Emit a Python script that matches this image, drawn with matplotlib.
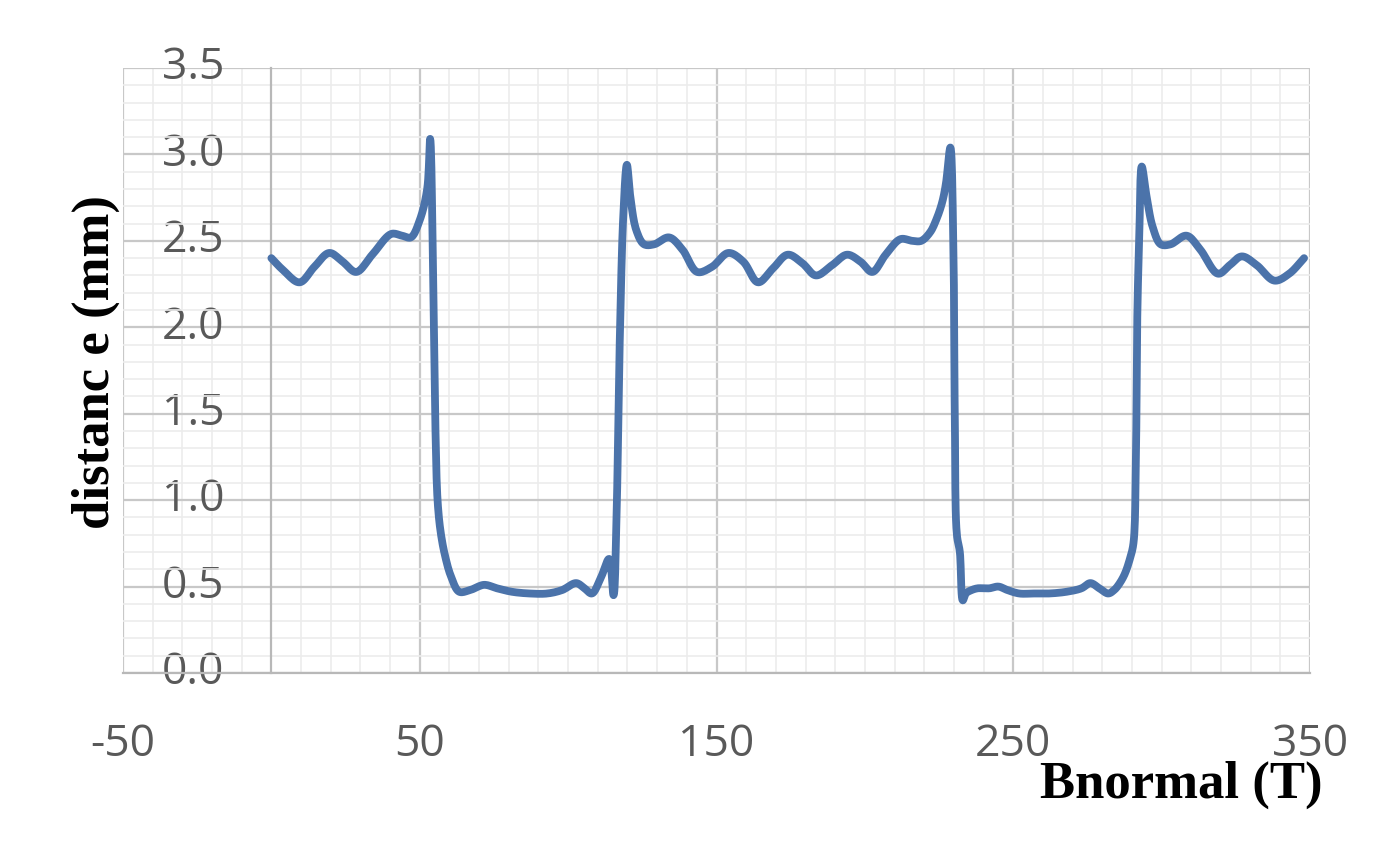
import matplotlib
matplotlib.use("Agg")
import matplotlib.pyplot as plt
import numpy as np
from matplotlib.ticker import MultipleLocator, FixedLocator

# Data
bnormal = [0, 4, 9.5, 14.5, 19.5, 24, 28.6, 34, 40.4, 44, 47, 50, 52.5, 53.5, 54.5, 55.3, 56, 57,
           58.5, 60.5, 63.3, 67, 71.7, 76, 81, 87, 93, 98, 102.7, 105.5, 108, 111, 113.8, 115.3,
           116.3, 117.5, 118.6, 119.8, 121, 123, 125.6, 129, 134, 138.5, 143.5, 148.5, 154, 159,
           164, 169, 174, 179, 183.5, 189, 194, 198.5, 202.5, 207, 212, 216, 219, 222, 224, 226,
           227.3, 228.8, 229.8, 230.3, 231, 232, 233, 234, 236, 238, 240, 242, 245, 248, 252, 257,
           262, 268, 273, 276, 279, 282, 284, 285.5, 287.5, 289.3, 290.5, 291.3, 291.8, 292.5,
           293.3, 295, 297, 299.7, 303, 308.4, 313, 319, 323, 327, 332, 338, 343, 348]
distance = [2.40, 2.33, 2.26, 2.35, 2.43, 2.38, 2.32, 2.42, 2.54, 2.53, 2.52, 2.62, 2.80, 3.09, 2.30,
            1.40, 1.00, 0.82, 0.68, 0.56, 0.47, 0.48, 0.51, 0.49, 0.47, 0.46, 0.46, 0.48, 0.52, 0.49,
            0.46, 0.55, 0.66, 0.45, 0.90, 2.00, 2.65, 2.94, 2.75, 2.56, 2.48, 2.48, 2.52, 2.45, 2.32,
            2.35, 2.43, 2.38, 2.26, 2.34, 2.42, 2.37, 2.30, 2.36, 2.42, 2.38, 2.32, 2.42, 2.51, 2.50,
            2.50, 2.55, 2.62, 2.72, 2.83, 3.04, 2.50, 1.50, 0.80, 0.70, 0.42, 0.46, 0.48, 0.49, 0.49,
            0.49, 0.50, 0.48, 0.46, 0.46, 0.46, 0.47, 0.49, 0.52, 0.49, 0.46, 0.48, 0.51, 0.57, 0.66,
            0.75, 1.20, 2.06, 2.55, 2.93, 2.75, 2.58, 2.48, 2.48, 2.53, 2.45, 2.31, 2.36, 2.41, 2.36,
            2.27, 2.31, 2.40]
x_ticks = [-50, 50, 150, 250, 350]
y_ticks = [0.0, 0.5, 1.0, 1.5, 2.0, 2.5, 3.0, 3.5]


def smooth_curve(xs, ys, sx, sy, n=12):
    """Centripetal Catmull-Rom rendering of the line (like a spreadsheet 'smoothed line')."""
    P = np.column_stack([np.asarray(xs, float) * sx, np.asarray(ys, float) * sy])
    P = np.vstack([2 * P[0] - P[1], P, 2 * P[-1] - P[-2]])
    out = [P[1]]
    for i in range(1, len(P) - 2):
        p0, p1, p2, p3 = P[i - 1], P[i], P[i + 1], P[i + 2]
        t0 = 0.0
        t1 = t0 + np.linalg.norm(p1 - p0) ** 0.5 + 1e-9
        t2 = t1 + np.linalg.norm(p2 - p1) ** 0.5 + 1e-9
        t3 = t2 + np.linalg.norm(p3 - p2) ** 0.5 + 1e-9
        for t in np.linspace(t1, t2, n)[1:]:
            a1 = (t1 - t) / (t1 - t0) * p0 + (t - t0) / (t1 - t0) * p1
            a2 = (t2 - t) / (t2 - t1) * p1 + (t - t1) / (t2 - t1) * p2
            a3 = (t3 - t) / (t3 - t2) * p2 + (t - t2) / (t3 - t2) * p3
            b1 = (t2 - t) / (t2 - t0) * a1 + (t - t0) / (t2 - t0) * a2
            b2 = (t3 - t) / (t3 - t1) * a2 + (t - t1) / (t3 - t1) * a3
            out.append((t2 - t) / (t2 - t1) * b1 + (t - t1) / (t2 - t1) * b2)
    out = np.array(out)
    return out[:, 0] / sx, out[:, 1] / sy


fig = plt.figure(figsize=(13.86, 8.42), dpi=100)
ax = fig.add_axes([123 / 1386, 1 - 673 / 842, (1310 - 123) / 1386, (673 - 68) / 842])

ax.set_xlim(-50, 350)
ax.set_ylim(0, 3.5)
ax.xaxis.set_major_locator(FixedLocator(x_ticks))
ax.xaxis.set_minor_locator(MultipleLocator(10))
ax.yaxis.set_major_locator(FixedLocator(y_ticks))
ax.yaxis.set_minor_locator(MultipleLocator(0.1))

ax.grid(which="major", color="#c8c8c8", linewidth=1.6)
ax.grid(which="minor", color="#ececec", linewidth=1.2)
ax.set_axisbelow(True)

for s in ["top", "right"]:
    ax.spines[s].set_visible(False)
ax.spines["left"].set_position(("data", 0))
ax.spines["left"].set_color("#b8b8b8")
ax.spines["left"].set_linewidth(1.6)
ax.spines["bottom"].set_color("#b8b8b8")
ax.spines["bottom"].set_linewidth(1.6)

# pixel scale factors so the smoothing works in screen-like space
sx = 1187 / 400.0
sy = 605 / 3.5
xs, ys = smooth_curve(bnormal, distance, sx, sy)
ax.plot(xs, ys, color="#4b73aa", linewidth=5.6, solid_joinstyle="round",
        solid_capstyle="round", zorder=3)

tick_font = dict(family=["Open Sans", "DejaVu Sans"], size=32, color="#595959")
ax.set_xticklabels([str(t) for t in x_ticks], **tick_font)
ax.set_yticklabels([f"{t:.1f}" for t in y_ticks], **tick_font)
ax.tick_params(which="both", length=0)
ax.tick_params(axis="x", pad=36)
ax.tick_params(axis="y", pad=34)
for lab in ax.get_yticklabels():
    lab.set_verticalalignment("center")

label_font = dict(family=["Liberation Serif", "DejaVu Serif"], weight="bold", size=38, color="black")
fig.text(1181 / 1386, 1 - 785 / 842, "Bnormal (T)", ha="center", va="center", **label_font)
fig.text(96 / 1386, 1 - 362 / 842, "distanc e (mm)", ha="center", va="center", rotation=90,
         **label_font)

fig.savefig("out.png", dpi=100)
